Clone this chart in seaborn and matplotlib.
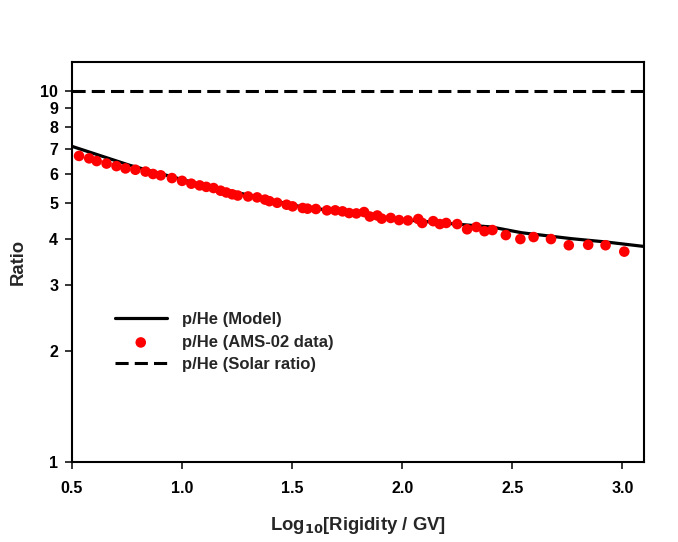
import matplotlib
matplotlib.use("Agg")
import matplotlib.pyplot as plt
import seaborn as sns
import pandas as pd
from matplotlib.ticker import FixedLocator, FixedFormatter, NullLocator

# ---- data ----
ams_logR = [0.532, 0.578, 0.612, 0.657, 0.702, 0.743, 0.788, 0.834, 0.868, 0.903,
            0.954, 1.000, 1.042, 1.080, 1.110, 1.143, 1.175, 1.201, 1.228, 1.253,
            1.300, 1.341, 1.377, 1.397, 1.432, 1.475, 1.502, 1.548, 1.570, 1.608,
            1.658, 1.696, 1.729, 1.759, 1.792, 1.827, 1.853, 1.887, 1.907, 1.948,
            1.986, 2.026, 2.073, 2.091, 2.141, 2.171, 2.200, 2.250, 2.295, 2.337,
            2.374, 2.410, 2.471, 2.537, 2.597, 2.676, 2.757, 2.845, 2.924, 3.009]
ams_ratio = [6.70, 6.60, 6.49, 6.39, 6.29, 6.20, 6.15, 6.08, 5.99, 5.94,
             5.84, 5.74, 5.64, 5.58, 5.53, 5.49, 5.40, 5.34, 5.28, 5.24,
             5.21, 5.18, 5.11, 5.06, 5.01, 4.95, 4.90, 4.85, 4.83, 4.82,
             4.78, 4.78, 4.75, 4.70, 4.69, 4.73, 4.60, 4.63, 4.54, 4.56,
             4.50, 4.49, 4.53, 4.42, 4.47, 4.39, 4.42, 4.39, 4.25, 4.31,
             4.20, 4.23, 4.10, 4.00, 4.05, 4.00, 3.85, 3.86, 3.85, 3.70]

model_logR = [0.50, 0.763, 1.080, 1.533, 1.986, 2.407, 2.543, 2.769, 2.923, 3.10]
model_ratio = [7.11, 6.32, 5.62, 4.90, 4.52, 4.31, 4.16, 4.01, 3.93, 3.82]

solar_ratio = 10.0

y_ticks = [1, 2, 3, 4, 5, 6, 7, 8, 9, 10]
y_ticklabels = ["1", "2", "3", "4", "5", "6", "7", "8", "9", "10"]
x_ticks = [0.5, 1.0, 1.5, 2.0, 2.5, 3.0]
x_ticklabels = ["0.5", "1.0", "1.5", "2.0", "2.5", "3.0"]

labels = ["p/He (Model)", "p/He (AMS-02 data)", "p/He (Solar ratio)"]

# ---- style ----
sns.set_style("ticks")
plt.rcParams['font.family'] = ['Liberation Sans', 'DejaVu Sans']
plt.rcParams['font.weight'] = 'bold'

fig = plt.figure(figsize=(6.78, 5.42), dpi=100)
ax = fig.add_axes([0.1062, 0.1467, 0.8441, 0.7389])

ams_df = pd.DataFrame({"x": ams_logR, "y": ams_ratio})
model_df = pd.DataFrame({"x": model_logR, "y": model_ratio})

sns.lineplot(data=model_df, x="x", y="y", ax=ax, color="black", linewidth=2.3,
             label=labels[0], zorder=2, sort=True)
sns.scatterplot(data=ams_df, x="x", y="y", ax=ax, color="#ff0000", s=58,
                edgecolor="none", label=labels[1], zorder=3)
ax.axhline(solar_ratio, color="black", linewidth=2.2, dashes=(4.3, 2.0),
           label=labels[2], zorder=2)

ax.set_yscale("log")
ax.set_xlim(0.5, 3.1)
ax.set_ylim(1, 12)

ax.yaxis.set_major_locator(FixedLocator(y_ticks))
ax.yaxis.set_major_formatter(FixedFormatter(y_ticklabels))
ax.yaxis.set_minor_locator(NullLocator())
ax.xaxis.set_major_locator(FixedLocator(x_ticks))
ax.xaxis.set_major_formatter(FixedFormatter(x_ticklabels))

for s in ax.spines.values():
    s.set_linewidth(1.5)
    s.set_color("black")
    s.set_visible(True)

ax.tick_params(axis="both", direction="out", length=5, width=1.1,
               labelsize=11.5, colors="black", pad=5)
ax.tick_params(axis="x", pad=8)
for lab in ax.get_xticklabels() + ax.get_yticklabels():
    lab.set_fontweight("bold")

ax.set_xlabel(r"Log$_{\mathbf{10}}$[Rigidity / GV]", fontsize=13.3, fontweight="bold", labelpad=14)
ax.set_ylabel("Ratio", fontsize=13.3, fontweight="bold", labelpad=10)

leg = ax.legend(loc="upper left", bbox_to_anchor=(0.075, 0.375), frameon=False,
                fontsize=12, handlelength=3.1, handletextpad=0.9,
                labelspacing=0.45, borderpad=0, borderaxespad=0)
for t in leg.get_texts():
    t.set_fontweight("bold")

fig.savefig("out.png", dpi=100)
